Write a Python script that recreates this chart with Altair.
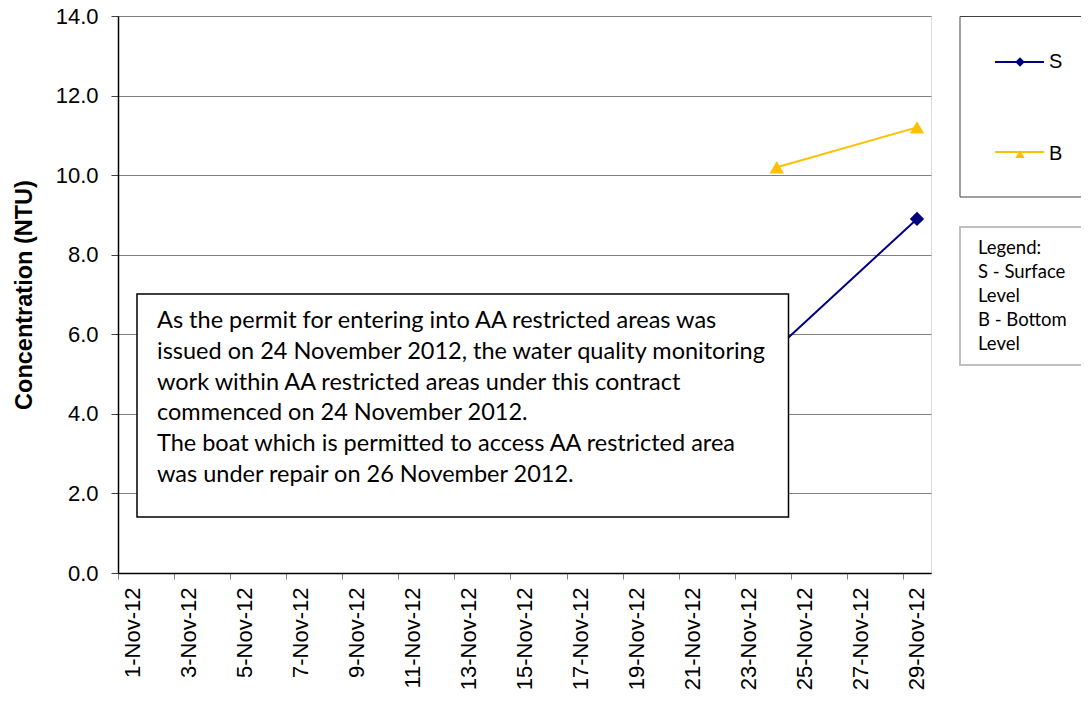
import altair as alt
import pandas as pd

# ---- data ----
dates = ["24-Nov-12", "29-Nov-12"]
surface = [5.65, 8.9]
bottom = [10.2, 11.2]
series_names = ["S", "B"]
series_colors = ["#000080", "#FFC000"]
series_shapes = ["diamond", "triangle-up"]
y_ticks = [0, 2, 4, 6, 8, 10, 12, 14]
x_tick_days = list(range(1, 30, 2))
annotation_lines = [
    "As the permit for entering into AA restricted areas was",
    "issued on 24 November 2012, the water quality monitoring",
    "work within AA restricted areas under this contract",
    "commenced on 24 November 2012.",
    "The boat which is permitted to access AA restricted area",
    "was under repair on 26 November 2012.",
]
note_lines = ["Legend:", "S - Surface", "Level", "B - Bottom", "Level"]

W, H = 813, 557
half_day = W / 29 / 2

day = pd.to_datetime(pd.Series(dates), format="%d-%b-%y").dt.day
rows = []
for name, vals in zip(series_names, [surface, bottom]):
    for d, v in zip(day, vals):
        rows.append({"day": int(d), "value": v, "series": name, "series2": name})
df = pd.DataFrame(rows)

FONT = "Liberation Sans"

x = alt.X(
    "day:Q",
    scale=alt.Scale(domain=[0.5, 29.5], nice=False, zero=False),
    axis=alt.Axis(
        values=x_tick_days,
        labelExpr="datum.value + '-Nov-12'",
        labelAngle=270,
        labelAlign="right",
        labelBaseline="middle",
        tickOffset=-half_day,
        labelOffset=half_day,
        grid=False,
        title=None,
        labelFont=FONT,
        labelFontSize=22,
        labelColor="black",
        labelPadding=8,
        tickSize=6,
        tickColor="#808080",
        domainColor="black",
        domainWidth=1.5,
    ),
)
y = alt.Y(
    "value:Q",
    scale=alt.Scale(domain=[0, 14], nice=False),
    axis=alt.Axis(
        values=y_ticks,
        format=".1f",
        grid=True,
        gridColor="#808080",
        gridWidth=1,
        title="Concentration (NTU)",
        titleFont=FONT,
        titleFontSize=23.5,
        titleFontWeight="bold",
        titleColor="black",
        titlePadding=19,
        labelFont=FONT,
        labelFontSize=22,
        labelColor="black",
        labelPadding=13,
        tickSize=7,
        tickColor="#404040",
        domainColor="black",
        domainWidth=1.5,
    ),
)

legend_markers = alt.Legend(
    title=None,
    orient="none",
    legendX=892,
    legendY=36,
    symbolSize=90,
    labelFont=FONT,
    labelFontSize=20,
    labelColor="black",
    labelOffset=19,
    rowPadding=72,
    padding=0,
)
legend_strokes = alt.Legend(
    title=None,
    orient="none",
    legendX=876,
    legendY=20.5,
    symbolType="stroke",
    symbolSize=2401,
    symbolStrokeWidth=2,
    labelFont=FONT,
    labelFontSize=20,
    labelOpacity=0,
    labelOffset=2,
    rowPadding=54,
    padding=0,
)

base = alt.Chart(df)
lines = base.mark_line(strokeWidth=2).encode(
    x=x,
    y=y,
    stroke=alt.Stroke(
        "series2:N",
        sort=series_names,
        scale=alt.Scale(range=series_colors),
        legend=legend_strokes,
    ),
)
points = base.mark_point(filled=True, opacity=1, size=205).encode(
    x=x,
    y=y,
    color=alt.Color(
        "series:N",
        scale=alt.Scale(domain=series_names, range=series_colors),
        legend=legend_markers,
    ),
    shape=alt.Shape(
        "series:N",
        scale=alt.Scale(domain=series_names, range=series_shapes),
        legend=legend_markers,
    ),
)

one = pd.DataFrame({"k": [0]})
legend_frame = alt.Chart(one).mark_rect(
    fill="white", stroke="#404040", strokeWidth=1
).encode(
    x=alt.value(842), x2=alt.value(990), y=alt.value(0.5), y2=alt.value(181)
)
ann_box = alt.Chart(one).mark_rect(
    fill="white", stroke="black", strokeWidth=1.5
).encode(
    x=alt.value(19), x2=alt.value(670.5), y=alt.value(278), y2=alt.value(501)
)
ann_text = alt.Chart(one).mark_text(
    align="left", baseline="middle", font="Lato", fontSize=23.5,
    lineHeight=30.8, color="black"
).encode(
    x=alt.value(39), y=alt.value(305), text=alt.value(annotation_lines)
)
note_box = alt.Chart(one).mark_rect(
    fill="white", stroke="#BFBFBF", strokeWidth=2
).encode(
    x=alt.value(842), x2=alt.value(990), y=alt.value(211), y2=alt.value(349)
)
note_text = alt.Chart(one).mark_text(
    align="left", baseline="middle", font="Lato", fontSize=18.5,
    lineHeight=24, color="black"
).encode(
    x=alt.value(860), y=alt.value(232), text=alt.value(note_lines)
)

chart = alt.layer(
    lines, points, legend_frame, ann_box, ann_text, note_box, note_text
).properties(
    width=W,
    height=H,
    autosize=alt.AutoSizeParams(type="none"),
    padding={"left": 110, "top": 8, "right": 150, "bottom": 118},
).configure_view(
    stroke="#808080", strokeWidth=1
).configure(background="white")

chart.save("out.html", embed_options={"renderer": "svg", "actions": False})
